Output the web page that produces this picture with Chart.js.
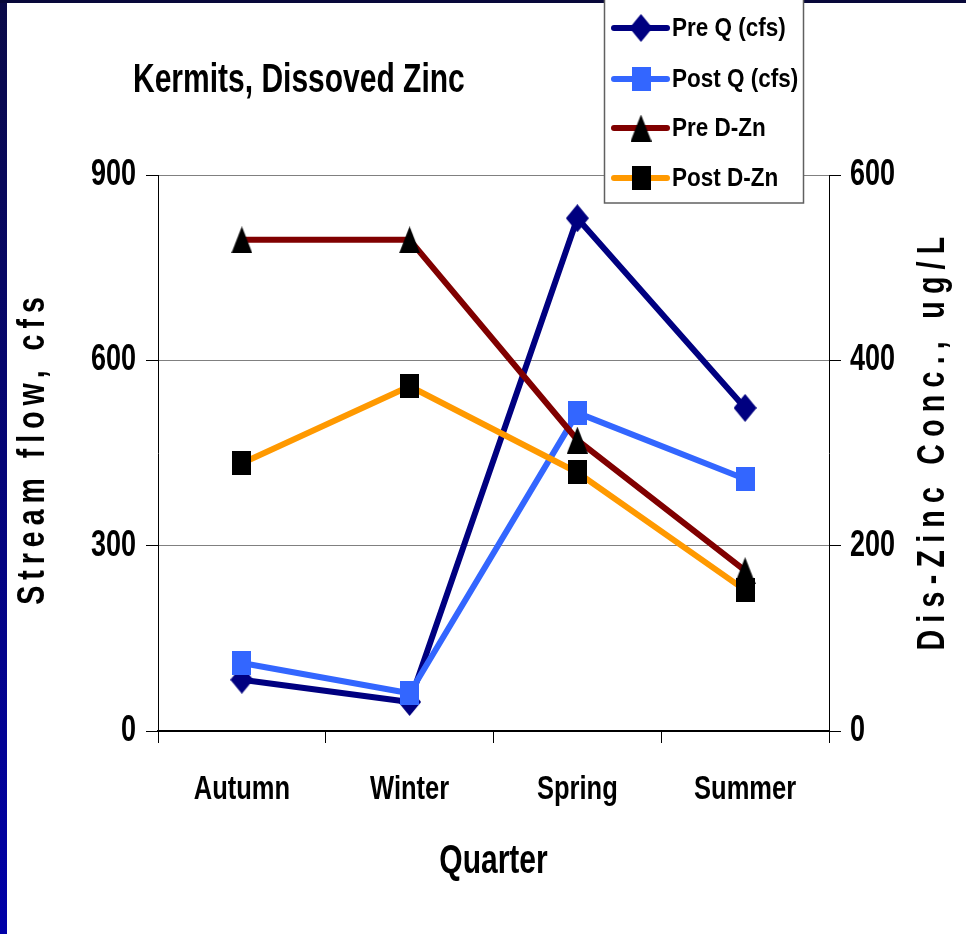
<!DOCTYPE html>
<html>
<head>
<meta charset="utf-8">
<script src="https://cdn.jsdelivr.net/npm/chart.js@4.4.1/dist/chart.umd.min.js"></script>
<style>
  html, body { margin: 0; padding: 0; background: #fff; }
  #chart { display: block; }
</style>
</head>
<body>
<canvas id="chart" width="966" height="934"></canvas>
<script>
// Werte
const quarters = ['Autumn', 'Winter', 'Spring', 'Summer'];
const preQ = [83, 47, 830, 523];       // cfs, linke Achse
const postQ = [110, 61, 515, 408];     // cfs, linke Achse
const preZn = [530, 530, 314, 173];    // ug/L, rechte Achse
const postZn = [289, 372, 279, 152];   // ug/L, rechte Achse

const flowTicks = [0, 300, 600, 900];
const concTicks = [0, 200, 400, 600];

const FONT = "'Liberation Sans', Arial, sans-serif";
const NARROW = 0.75; // Schrift horizontal stauchen (gestreckte Folie)

const canvas = document.getElementById('chart');
const context = canvas.getContext('2d');

// Alle Texte schmal zeichnen: fillText um den Ankerpunkt horizontal skalieren
const origFillText = context.fillText.bind(context);
context.narrow = NARROW;
context.fillText = function(text, x, y, maxWidth) {
    const s = this.narrow;
    this.save();
    this.translate(x, y);
    this.scale(s, 1);
    if (maxWidth !== undefined) origFillText(text, 0, 0, maxWidth / s);
    else origFillText(text, 0, 0);
    this.restore();
};

/**
 * Erzeugt ein kleines Canvas als Marker (Raute, Rechteck, Dreieck).
 */
function makeMarker(shape, w, h, color) {
    const c = document.createElement('canvas');
    c.width = w; c.height = h;
    const g = c.getContext('2d');
    g.fillStyle = color;
    g.beginPath();
    if (shape === 'diamond') {
        g.moveTo(w / 2, 0); g.lineTo(w, h / 2); g.lineTo(w / 2, h); g.lineTo(0, h / 2);
    } else if (shape === 'triangle') {
        g.moveTo(w / 2, 0); g.lineTo(w, h); g.lineTo(0, h);
    } else {
        g.rect(0, 0, w, h);
    }
    g.closePath();
    g.fill();
    return c;
}

const markers = {
    preQ: makeMarker('diamond', 23, 28, '#000080'),
    postQ: makeMarker('rect', 19, 24, '#3366FF'),
    preZn: makeMarker('triangle', 21, 27, '#000000'),
    postZn: makeMarker('rect', 19, 24, '#000000')
};

// Hintergrund mit blauem Rand links/oben
const backgroundPlugin = {
    id: 'background',
    beforeDraw(chart) {
        const ctx = chart.ctx;
        ctx.save();
        ctx.fillStyle = '#ffffff';
        ctx.fillRect(0, 0, chart.width, chart.height);
        const grad = ctx.createLinearGradient(0, 0, 0, chart.height);
        grad.addColorStop(0, '#0a0a48');
        grad.addColorStop(1, '#0000a8');
        ctx.fillStyle = grad;
        ctx.fillRect(0, 0, 7, chart.height);
        ctx.fillStyle = '#08083a';
        ctx.fillRect(0, 0, chart.width, 3);
        ctx.restore();
    }
};

// Titel, Achsentitel (gesperrt) und Legende
const overlayPlugin = {
    id: 'overlay',
    afterDraw(chart) {
        const ctx = chart.ctx;
        ctx.save();
        ctx.fillStyle = '#000';

        ctx.font = 'bold 40px ' + FONT;
        ctx.textAlign = 'left';
        ctx.textBaseline = 'alphabetic';
        ctx.fillText('Kermits, Dissoved Zinc', 133, 92);

        ctx.font = 'bold 38px ' + FONT;
        ctx.textAlign = 'center';
        ctx.textBaseline = 'middle';
        ctx.letterSpacing = '8px';
        ctx.save();
        ctx.translate(34, 452);
        ctx.rotate(-Math.PI / 2);
        ctx.fillText('Stream flow, cfs', 4, 0);
        ctx.restore();

        ctx.letterSpacing = '9.7px';
        ctx.save();
        ctx.translate(934, 445);
        ctx.rotate(-Math.PI / 2);
        ctx.fillText('Dis-Zinc Conc., ug/L', 5, 0);
        ctx.restore();
        ctx.letterSpacing = '0px';

        // Legende
        ctx.fillStyle = '#fff';
        ctx.fillRect(604, -2, 199, 205);
        ctx.strokeStyle = '#606060';
        ctx.lineWidth = 1.5;
        ctx.strokeRect(604.5, -2, 199, 205);

        const rows = [28, 79, 128, 178];
        ctx.narrow = 0.9;
        chart.data.datasets.forEach((ds, i) => {
            const y = rows[i];
            ctx.strokeStyle = ds.borderColor;
            ctx.lineWidth = 6;
            ctx.lineCap = 'round';
            ctx.beginPath();
            ctx.moveTo(614, y);
            ctx.lineTo(667, y);
            ctx.stroke();
            const m = ds.pointStyle;
            ctx.drawImage(m, 641 - m.width / 2, y - m.height / 2);
            ctx.fillStyle = '#000';
            ctx.font = 'bold 25px ' + FONT;
            ctx.textAlign = 'left';
            ctx.textBaseline = 'middle';
            ctx.fillText(ds.label, 672, y + 1);
        });
        ctx.narrow = NARROW;
        ctx.restore();
    }
};

const tickFont = { family: FONT, size: 36, weight: 'bold' };

new Chart(canvas, {
    type: 'line',
    data: {
        labels: quarters,
        datasets: [
            { label: 'Pre Q (cfs)', data: preQ, yAxisID: 'y', borderColor: '#000080', backgroundColor: '#000080',
              pointStyle: markers.preQ, borderWidth: 6, order: 4 },
            { label: 'Post Q (cfs)', data: postQ, yAxisID: 'y', borderColor: '#3366FF', backgroundColor: '#3366FF',
              pointStyle: markers.postQ, borderWidth: 6, order: 3 },
            { label: 'Pre D-Zn', data: preZn, yAxisID: 'y2', borderColor: '#800000', backgroundColor: '#000',
              pointStyle: markers.preZn, borderWidth: 6, order: 2 },
            { label: 'Post D-Zn', data: postZn, yAxisID: 'y2', borderColor: '#FF9900', backgroundColor: '#000',
              pointStyle: markers.postZn, borderWidth: 6, order: 1 }
        ]
    },
    options: {
        responsive: false,
        animation: false,
        devicePixelRatio: 1,
        layout: { padding: { top: 175, left: 0, right: 0, bottom: 0 } },
        elements: { line: { tension: 0, borderJoinStyle: 'round' }, point: { radius: 12 } },
        plugins: { legend: { display: false }, title: { display: false }, tooltip: { enabled: false } },
        scales: {
            x: {
                offset: true,
                grid: { display: true, drawOnChartArea: false, offset: true, tickLength: 12, tickColor: '#000' },
                border: { display: true, color: '#000', width: 2 },
                ticks: { color: '#000', font: { family: FONT, size: 34, weight: 'bold' }, padding: 26, maxRotation: 0 },
                title: { display: true, text: 'Quarter', color: '#000',
                         font: { family: FONT, size: 40, weight: 'bold' }, padding: { top: 0, bottom: 48 } },
                afterFit(scale) { scale.height = 203; }
            },
            y: {
                position: 'left',
                min: 0, max: 900,
                afterBuildTicks(scale) { scale.ticks = flowTicks.map(v => ({ value: v })); },
                grid: { color: '#808080', lineWidth: 1, tickLength: 12, tickColor: '#000' },
                border: { display: true, color: '#000', width: 1 },
                ticks: { color: '#000', font: tickFont, padding: 10 },
                afterFit(scale) { scale.width = 158; }
            },
            y2: {
                position: 'right',
                min: 0, max: 600,
                afterBuildTicks(scale) { scale.ticks = concTicks.map(v => ({ value: v })); },
                grid: { drawOnChartArea: false, tickLength: 12, tickColor: '#000' },
                border: { display: true, color: '#000', width: 1 },
                ticks: { color: '#000', font: tickFont, padding: 9 },
                afterFit(scale) { scale.width = 137; }
            }
        }
    },
    plugins: [backgroundPlugin, overlayPlugin]
});
</script>
</body>
</html>
